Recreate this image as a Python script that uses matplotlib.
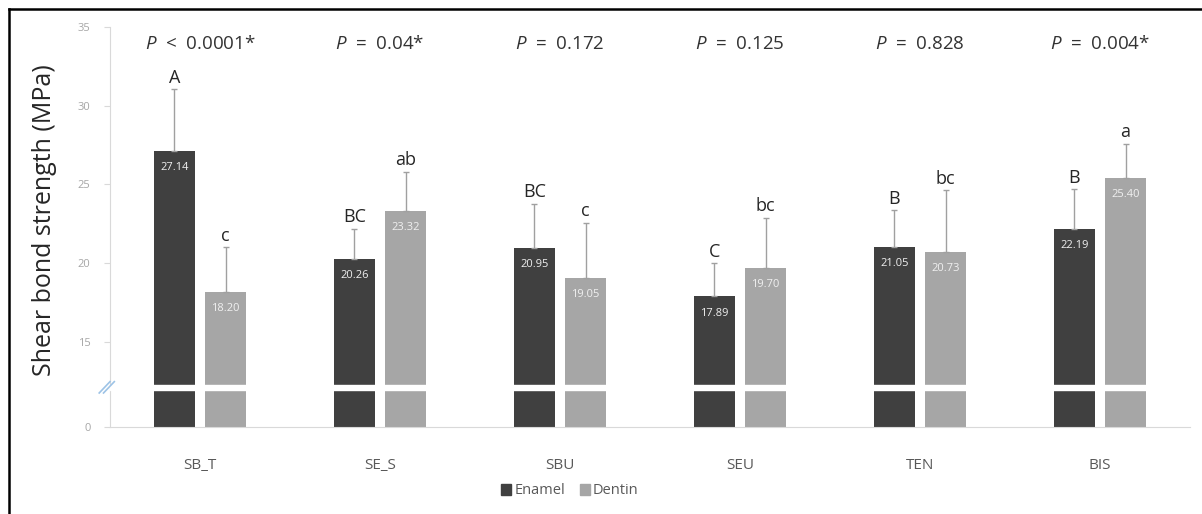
import numpy as np
import matplotlib
matplotlib.use("Agg")
import matplotlib.pyplot as plt
from matplotlib.lines import Line2D
from matplotlib.patches import Patch

plt.rcParams['font.family'] = ['Open Sans', 'DejaVu Sans']
plt.rcParams['mathtext.fontset'] = 'custom'
plt.rcParams['mathtext.it'] = 'Open Sans:italic'
plt.rcParams['mathtext.rm'] = 'Open Sans'

# data
groups = ["SB_T", "SE_S", "SBU", "SEU", "TEN", "BIS"]
enamel = [27.14, 20.26, 20.95, 17.89, 21.05, 22.19]
dentin = [18.20, 23.32, 19.05, 19.70, 20.73, 25.40]
enamel_sd = [3.9, 1.9, 2.8, 2.1, 2.3, 2.5]
dentin_sd = [2.8, 2.5, 3.5, 3.2, 3.9, 2.2]
enamel_letters = ["A", "BC", "BC", "C", "B", "B"]
dentin_letters = ["c", "ab", "c", "bc", "bc", "a"]
pvals = [r"$\it{P}$  <  0.0001*", r"$\it{P}$  =  0.04*", r"$\it{P}$  =  0.172",
         r"$\it{P}$  =  0.125", r"$\it{P}$  =  0.828", r"$\it{P}$  =  0.004*"]
yticks = [0, 15, 20, 25, 30, 35]

# broken axis: 0..15 squeezed into a short segment
Z0 = 9.6
def fwd(v):
    v = np.asarray(v, dtype=float)
    return np.where(v >= 15, v, Z0 + v * (15 - Z0) / 15)

def inv(d):
    d = np.asarray(d, dtype=float)
    return np.where(d >= 15, d, (d - Z0) * 15 / (15 - Z0))

c_en = "#404040"
c_de = "#a6a6a6"

fig = plt.figure(figsize=(12.02, 5.14), dpi=100)
ax = fig.add_axes([110/1202, 1-427/514, (1190-110)/1202, (427-27)/514])
ax.set_yscale('function', functions=(fwd, inv))

x = np.arange(len(groups))
w = 0.223
off = 0.142
b1 = ax.bar(x - off, enamel, w, color=c_en, zorder=2)
b2 = ax.bar(x + off, dentin, w, color=c_de, zorder=2)

ax.errorbar(x - off, enamel, yerr=[np.zeros(6), enamel_sd], fmt='none',
            ecolor="#a0a0a0", elinewidth=1, capsize=2, capthick=1, zorder=3)
ax.errorbar(x + off, dentin, yerr=[np.zeros(6), dentin_sd], fmt='none',
            ecolor="#a0a0a0", elinewidth=1, capsize=2, capthick=1, zorder=3)

for i in range(len(groups)):
    for xx, v, sd, lab in [(x[i] - off, enamel[i], enamel_sd[i], enamel_letters[i]),
                           (x[i] + off, dentin[i], dentin_sd[i], dentin_letters[i])]:
        ax.annotate(f"{v:.2f}", (xx, v), xytext=(0, -12), textcoords="offset points",
                    ha="center", va="center", fontsize=8, color="#f0f0f0", zorder=4)
        ax.annotate(lab, (xx, v + sd), xytext=(0, 2), textcoords="offset points",
                    ha="center", va="bottom", fontsize=13, color="#262626", zorder=4)
    ax.text(x[i], 33.9, pvals[i], ha="center", va="center", fontsize=13.5, color="#333333")

# white gap across bars for the axis break
ax.axhspan(6.45, 7.35, color="white", zorder=5)
tr = ax.get_yaxis_transform()
for dx in (-0.004, 0.0):
    ax.plot([-0.006 + dx, 0.004 + dx], [6.0, 8.0], transform=tr, color="#9dc3e6",
            lw=1.2, clip_on=False, zorder=6)

ax.set_xlim(-0.5, len(groups) - 0.5)
ax.set_ylim(0, 35)
ax.set_yticks(yticks)
ax.set_yticklabels([str(t) for t in yticks])
ax.set_xticks(x)
ax.set_xticklabels(groups)
ax.tick_params(axis='x', length=0, pad=22, labelsize=11, labelcolor="#595959")
ax.tick_params(axis='y', length=4, width=0.8, color="#d9d9d9", pad=10,
               labelsize=8, labelcolor="#a6a6a6")
for s in ["top", "right"]:
    ax.spines[s].set_visible(False)
ax.spines["left"].set_color("#d9d9d9")
ax.spines["bottom"].set_color("#d9d9d9")

fig.text(45/1202, 1-220/514, "Shear bond strength (MPa)", rotation=90,
         ha="center", va="center", fontsize=18, color="#262626")

handles = [Patch(color=c_en), Patch(color=c_de)]
fig.legend(handles, ["Enamel", "Dentin"], loc="center", bbox_to_anchor=(0.474, 1-491/514),
           ncol=2, frameon=False, handlelength=0.7, handleheight=0.7,
           handletextpad=0.2, columnspacing=1.0, fontsize=10.5, labelcolor="#595959")

# outer frame
fx = 8.5/1202
fy = 1 - 8.5/514
fig.add_artist(Line2D([fx, fx], [0, fy], color="black", lw=1.8))
fig.add_artist(Line2D([fx, 1], [fy, fy], color="black", lw=1.8))

fig.savefig("out.png", dpi=100)
